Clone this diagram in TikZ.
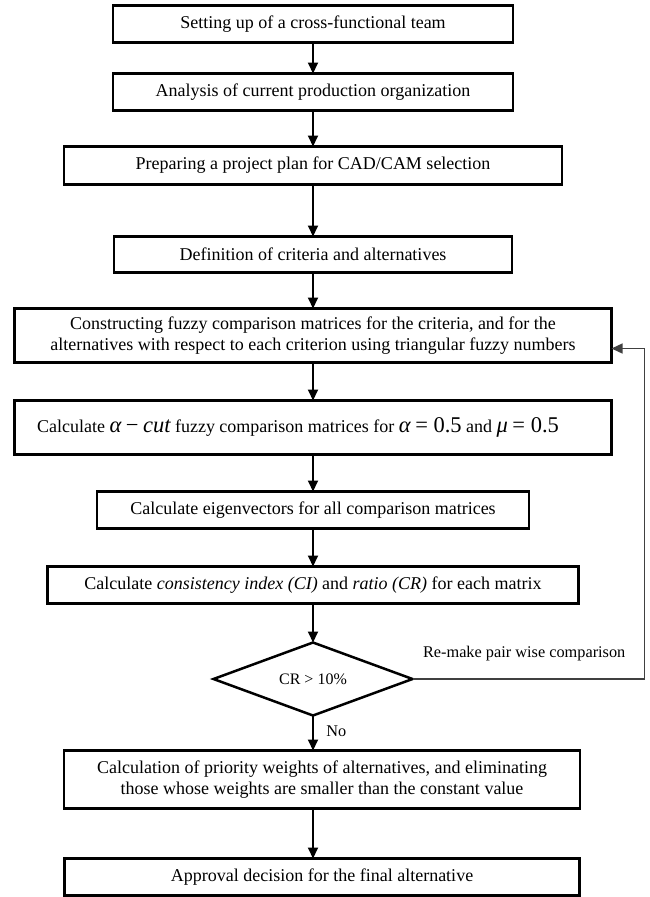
\documentclass[tikz,border=0pt]{standalone}
\usepackage{fontspec}
\setmainfont{Liberation Serif}
\usetikzlibrary{shapes.geometric,arrows.meta,positioning,calc}
\newcommand{\eqsz}{\fontsize{22.5}{23}\selectfont}

\begin{document}
\begin{tikzpicture}[
    x=1pt, y=1pt,
    node distance=36pt,
    stagebox/.style={rectangle, draw, line width=2.7pt, minimum height=37pt, inner sep=2pt, outer sep=0pt, font=\fontsize{18}{20.5}\selectfont, align=center},
    decision/.style={diamond, draw, aspect=2.7, line width=2.5pt, minimum width=199pt, minimum height=73pt, inner sep=0pt, outer sep=0pt, font=\fontsize{16}{18}\selectfont},
    arrow/.style={-{Triangle[length=11pt,width=10pt]}, line width=1.9pt},
    back/.style={-{Triangle[length=11pt,width=10pt]}, line width=1.4pt, black!75},
    sidetext/.style={font=\fontsize{16.3}{18}\selectfont}
]
    \useasboundingbox (0,0) rectangle (649,-897);

    \node[stagebox, minimum width=400pt] (team) at (313,-24) {Setting up of a cross-functional team};
    \node[stagebox, minimum width=400pt, below=31pt of team] (analysis) {Analysis of current production organization};
    \node[stagebox, minimum width=498pt, minimum height=38pt, below=36pt of analysis] (plan) {Preparing a project plan for CAD/CAM selection};
    \node[stagebox, minimum width=398pt, minimum height=36pt, below=52pt of plan] (criteria) {Definition of criteria and alternatives};
    \node[stagebox, minimum width=597pt, minimum height=54pt, below=36pt of criteria] (fuzzy) {Constructing fuzzy comparison matrices for the criteria, and for the\\alternatives with respect to each criterion using triangular fuzzy numbers};
    \node[stagebox, minimum width=597pt, minimum height=54pt, below=38pt of fuzzy] (alphacut) {Calculate {\eqsz\itshape α} {\eqsz −} {\eqsz\itshape cut} fuzzy comparison matrices for {\eqsz\itshape α} {\eqsz = 0.5} and {\eqsz\itshape μ} {\eqsz = 0.5}\hspace*{30pt}};
    \node[stagebox, minimum width=432pt, below=37pt of alphacut] (eigen) {Calculate eigenvectors for all comparison matrices};
    \node[stagebox, minimum width=531pt, below=38pt of eigen] (consist) {Calculate \textit{consistency index (CI)} and \textit{ratio (CR)} for each matrix};
    \node[decision, below=39pt of consist] (crtest) {CR > 10\%};
    \node[stagebox, minimum width=516pt, minimum height=58pt, below=35pt of crtest, xshift=9pt] (weights) {Calculation of priority weights of alternatives, and eliminating\\those whose weights are smaller than the constant value};
    \node[stagebox, minimum width=515pt, below=50pt of weights] (approval) {Approval decision for the final alternative};

    % main flow
    \draw[arrow] (team) -- (analysis);
    \draw[arrow] (analysis) -- (plan);
    \draw[arrow] (plan) -- (criteria);
    \draw[arrow] (criteria) -- (fuzzy);
    \draw[arrow] (fuzzy) -- (alphacut);
    \draw[arrow] (alphacut) -- (eigen);
    \draw[arrow] (eigen) -- (consist);
    \draw[arrow] (consist) -- (crtest);
    \draw[arrow] (crtest.south) -- node[sidetext, right=9pt, pos=0.45] (nolbl) {No} (crtest.south |- weights.north);
    \draw[arrow] (weights.south -| crtest.south) -- (approval.north -| crtest.south);

    % loop back to the comparison matrices
    \coordinate (fbin) at ([yshift=-13pt]fuzzy.east);
    \coordinate (fbturn) at ([xshift=33pt]fbin);
    \draw[back] (crtest.east) -| (fbturn) -- (fbin);
    \node[sidetext, anchor=base west] (remake) at ([xshift=7pt,yshift=22pt]crtest.east) {Re-make pair wise comparison};
\end{tikzpicture}
\end{document}
